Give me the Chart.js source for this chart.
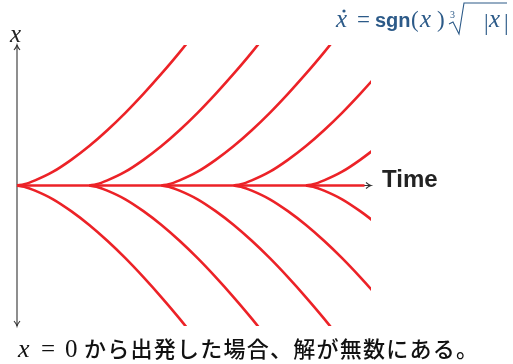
<!DOCTYPE html>
<html>
<head>
<meta charset="utf-8">
<script src="https://cdn.jsdelivr.net/npm/chart.js@4.4.1/dist/chart.umd.min.js"></script>
<style>
  html, body { margin: 0; padding: 0; background: #ffffff; }
  #wrap { width: 513px; height: 364px; }
</style>
</head>
<body>
<div id="wrap"><canvas id="c" width="513" height="364"></canvas></div>
<script>
// ---- data ----
const branchStarts = [0, 1, 2, 3, 4];            // times where new solutions leave x = 0
const shapeDt = [0, 0.1, 0.25, 0.5, 0.75, 1, 1.25, 1.5, 1.75, 2, 2.25, 2.5, 2.75];   // time since branching
const shapeDx = [0, 0.03, 0.13, 0.35, 0.65, 1.0, 1.4, 1.84, 2.32, 2.83, 3.37, 3.95, 4.56]; // |x| of branch
const zeroLineT = [0, 4.81];                     // trivial solution x = 0
const zeroLineX = [0, 0];
const timeRange = [0, 4.9];
const xRange = [-3.557, 3.557];
const axisTitleX = 'x';
const axisTitleTime = 'Time';
const captionMath = ['x', '=', '0'];
const captionJa = 'から出発した場合、解が無数にある。';

// ---- build datasets ----
const RED = '#ec2227';
const datasets = [];
branchStarts.forEach(t0 => {
  [1, -1].forEach(sign => {
    datasets.push({
      data: shapeDt.map((d, i) => ({ x: t0 + d, y: sign * shapeDx[i] })),
      borderColor: RED,
      borderWidth: 2.6,
      pointRadius: 0,
      fill: false,
      cubicInterpolationMode: 'monotone',
      clip: { left: 3, top: 0, right: 0, bottom: 0 }
    });
  });
});
datasets.push({
  data: zeroLineT.map((t, i) => ({ x: t, y: zeroLineX[i] })),
  borderColor: RED,
  borderWidth: 2.6,
  pointRadius: 0,
  fill: false,
  clip: { left: 3, top: 3, right: 3, bottom: 3 }
});

function arrowHead(ctx, x, y, dir) {
  ctx.save();
  ctx.translate(x, y);
  const rot = { up: -Math.PI / 2, down: Math.PI / 2, right: 0 }[dir];
  ctx.rotate(rot);
  ctx.beginPath();
  ctx.moveTo(-5, -3);
  ctx.quadraticCurveTo(-2, -0.5, 0, 0);
  ctx.quadraticCurveTo(-2, 0.5, -5, 3);
  ctx.stroke();
  ctx.restore();
}

const axesPlugin = {
  id: 'axesArrows',
  beforeDatasetsDraw(chart) {
    const ctx = chart.ctx;
    const xs = chart.scales.x, ys = chart.scales.y;
    const x0 = xs.getPixelForValue(0);
    const yTop = ys.getPixelForValue(xRange[1]);
    const yBot = ys.getPixelForValue(xRange[0]);
    const y0 = ys.getPixelForValue(0);
    const xEnd = xs.getPixelForValue(timeRange[1]);
    ctx.save();
    ctx.strokeStyle = '#333333';
    ctx.lineWidth = 1.1;
    ctx.beginPath();
    ctx.moveTo(x0, yTop);
    ctx.lineTo(x0, yBot);
    ctx.moveTo(x0, y0);
    ctx.lineTo(xEnd, y0);
    ctx.stroke();
    arrowHead(ctx, x0, yTop, 'up');
    arrowHead(ctx, x0, yBot, 'down');
    arrowHead(ctx, xEnd, y0, 'right');
    ctx.restore();
  },
  afterDraw(chart) {
    const ctx = chart.ctx;
    const xs = chart.scales.x, ys = chart.scales.y;
    const x0 = xs.getPixelForValue(0);
    const yTop = ys.getPixelForValue(xRange[1]);
    const y0 = ys.getPixelForValue(0);
    const xEnd = xs.getPixelForValue(timeRange[1]);
    ctx.save();
    ctx.textBaseline = 'alphabetic';
    ctx.textAlign = 'left';
    // axis labels
    ctx.fillStyle = '#222222';
    ctx.font = 'italic 25px "Liberation Serif", "DejaVu Serif", serif';
    ctx.fillText(axisTitleX, x0 - 7, yTop - 3);
    ctx.font = 'bold 24px "Liberation Sans", Arial, sans-serif';
    ctx.fillText(axisTitleTime, xEnd + 11, y0 + 1);

    // equation (blue)
    const BLUE = '#2c5a88';
    ctx.fillStyle = BLUE;
    ctx.strokeStyle = BLUE;
    const eqBase = 27;
    const ital = 'italic 25px "Liberation Serif", serif';
    const rom = '23px "Liberation Serif", serif';
    ctx.font = ital;
    ctx.fillText('x', 336, eqBase);
    ctx.beginPath(); ctx.arc(344, 11, 1.6, 0, Math.PI * 2); ctx.fill();
    ctx.font = rom;
    ctx.fillText('=', 357, eqBase);
    ctx.font = 'bold 20px "Liberation Sans", Arial, sans-serif';
    ctx.fillText('sgn', 375, eqBase);
    ctx.font = rom;
    ctx.fillText('(', 411, eqBase);
    ctx.font = ital;
    ctx.fillText('x', 420, eqBase);
    ctx.font = rom;
    ctx.fillText(')', 437, eqBase);
    ctx.font = '10px "Liberation Serif", serif';
    ctx.fillText('3', 450, 18);
    ctx.lineWidth = 1.1;
    ctx.beginPath();
    ctx.moveTo(449, 24);
    ctx.lineTo(453, 22);
    ctx.lineTo(459, 34);
    ctx.lineTo(464, 3);
    ctx.lineTo(507, 3);
    ctx.stroke();
    ctx.font = rom;
    ctx.fillText('|', 484, eqBase + 3);
    ctx.font = ital;
    ctx.fillText('x', 489, eqBase);
    ctx.font = rom;
    ctx.fillText('|', 504, eqBase + 3);

    // caption
    ctx.fillStyle = '#111111';
    const capBase = 357;
    ctx.font = 'italic 26px "Liberation Serif", serif';
    ctx.fillText(captionMath[0], 18, capBase);
    ctx.font = '25px "Liberation Serif", serif';
    ctx.fillText(captionMath[1], 41, capBase);
    ctx.fillText(captionMath[2], 65, capBase);
    ctx.font = '500 22px "Noto Sans CJK JP", sans-serif';
    const w = ctx.measureText(captionJa).width;
    const target = 478 - 84;
    const extra = (target - w) / (captionJa.length - 1);
    let cx = 84;
    for (const ch of captionJa) {
      ctx.fillText(ch, cx, capBase);
      cx += ctx.measureText(ch).width + extra;
    }
    ctx.restore();
  }
};

new Chart(document.getElementById('c'), {
  type: 'line',
  data: { datasets },
  options: {
    responsive: false,
    animation: false,
    devicePixelRatio: 1,
    layout: { padding: { left: 17, top: 45, right: 142, bottom: 38 } },
    plugins: { legend: { display: false }, tooltip: { enabled: false } },
    scales: {
      x: { type: 'linear', min: timeRange[0], max: timeRange[1], display: false },
      y: { type: 'linear', min: xRange[0], max: xRange[1], display: false }
    }
  },
  plugins: [axesPlugin]
});
</script>
</body>
</html>
